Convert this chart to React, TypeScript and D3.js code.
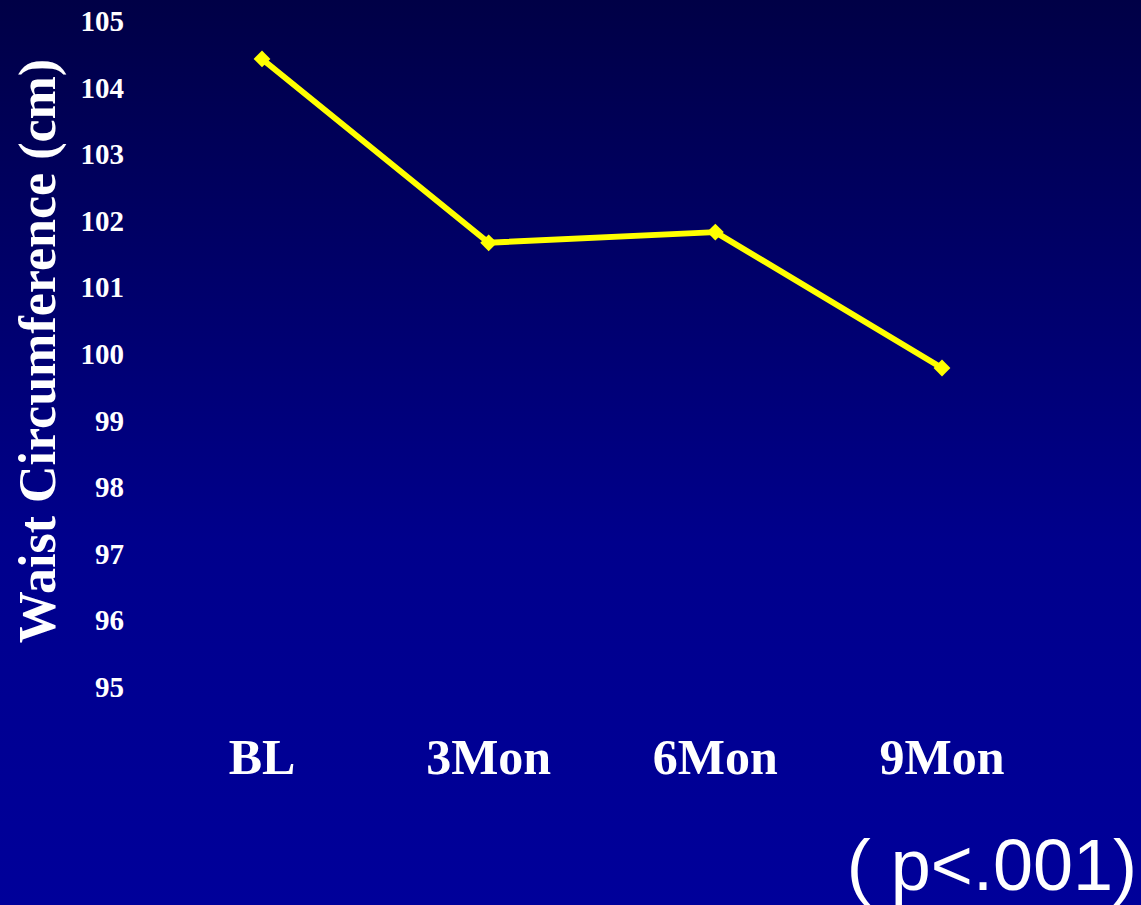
import React, { useEffect } from "react";
import * as d3 from "d3";

// Waist circumference over the follow-up visits
const categories = ["BL", "3Mon", "6Mon", "9Mon"];
const waistValues = [104.43, 101.67, 101.83, 99.79];
const yTicks = [95, 96, 97, 98, 99, 100, 101, 102, 103, 104, 105];
const yTitle = "Waist Circumference (cm)";
const pNote = "( p<.001)";

const W = 1141;
const H = 905;

export default function App() {
  useEffect(() => {
    document.body.style.margin = "0";
  }, []);

  const x = d3.scalePoint<string>().domain(categories).range([262, 942]);
  const y = d3.scaleLinear().domain([95, 105]).range([687, 21]);

  const line = d3
    .line<number>()
    .x((_, i) => x(categories[i]) as number)
    .y((d) => y(d));

  const diamond = d3.symbol().type(d3.symbolDiamond2).size(180)();

  const serif = "'Liberation Serif', 'Times New Roman', serif";

  return (
    <svg width={W} height={H} style={{ display: "block" }}>
      <defs>
        <linearGradient id="bg" x1="0" y1="0" x2="0" y2="1">
          <stop offset="0%" stopColor="#000046" />
          <stop offset="60%" stopColor="#00008c" />
          <stop offset="100%" stopColor="#00009a" />
        </linearGradient>
      </defs>
      <rect x={0} y={0} width={W} height={H} fill="url(#bg)" />

      {/* y tick labels */}
      {yTicks.map((t) => (
        <text
          key={t}
          x={124}
          y={y(t) + 10}
          textAnchor="end"
          fill="#ffffff"
          fontFamily={serif}
          fontWeight="bold"
          fontSize={29}
        >
          {t}
        </text>
      ))}

      {/* y axis title */}
      <text
        transform={`translate(55, 351) rotate(-90)`}
        textAnchor="middle"
        fill="#ffffff"
        fontFamily={serif}
        fontWeight="bold"
        fontSize={52}
      >
        {yTitle}
      </text>

      {/* category labels */}
      {categories.map((c) => (
        <text
          key={c}
          x={x(c) as number}
          y={774}
          textAnchor="middle"
          fill="#ffffff"
          fontFamily={serif}
          fontWeight="bold"
          fontSize={50}
        >
          {c}
        </text>
      ))}

      {/* series line and markers */}
      <path
        d={line(waistValues) || ""}
        fill="none"
        stroke="#ffff00"
        strokeWidth={6}
        strokeLinejoin="round"
      />
      {waistValues.map((v, i) => (
        <path
          key={categories[i]}
          d={diamond || ""}
          transform={`translate(${x(categories[i])}, ${y(v)})`}
          fill="#ffff00"
        />
      ))}

      <text
        x={1137}
        y={890}
        textAnchor="end"
        fill="#ffffff"
        fontFamily="'Liberation Sans', Arial, sans-serif"
        fontSize={72}
      >
        {pNote}
      </text>
    </svg>
  );
}
